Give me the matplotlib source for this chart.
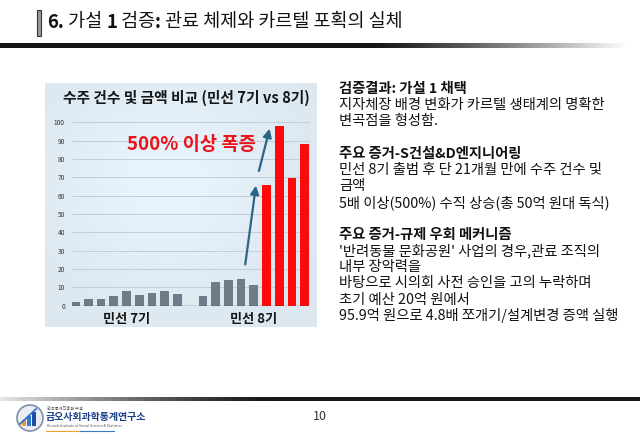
import numpy as np
import matplotlib.pyplot as plt
from matplotlib.patches import Rectangle, Circle

plt.rcParams['font.family'] = ['Noto Sans CJK KR', 'DejaVu Sans']

# Chart data
x_7 = [0, 1, 2, 3, 4, 5, 6, 7, 8]
v_7 = [2.0, 3.5, 3.8, 5.3, 7.8, 5.8, 6.8, 8.2, 6.2]
x_8_gray = [10, 11, 12, 13, 14]
v_8_gray = [5.2, 13.0, 13.8, 14.8, 11.2]
x_8_red = [15, 16, 17, 18]
v_8_red = [66.0, 98.0, 69.5, 88.0]
group_labels = ["민선 7기", "민선 8기"]
group_pos = [4, 14]
yticks = list(range(0, 101, 10))

chart_title = "수주 건수 및 금액 비교 (민선 7기 vs 8기)"
callout = "500% 이상 폭증"
# slide title pieces: (text, bold)
slide_title = [("6.", True), (" 가설 ", False), ("1", True), (" 검증", False), (":", True),
               (" 관료 체제와 카르텔 포획의 실체", False)]

right_lines = [
    ("검증결과: 가설 1 채택", True),
    ("지자체장 배경 변화가 카르텔 생태계의 명확한", False),
    ("변곡점을 형성함.", False),
    ("", False),
    ("주요 증거-S건설&D엔지니어링", True),
    ("민선 8기 출범 후 단 21개월 만에 수주 건수 및", False),
    ("금액", False),
    ("5배 이상(500%) 수직 상승(총 50억 원대 독식)", False),
    ("", False),
    ("주요 증거-규제 우회 메커니즘", True),
    ("'반려동물 문화공원' 사업의 경우,관료 조직의", False),
    ("내부 장악력을", False),
    ("바탕으로 시의회 사전 승인을 고의 누락하며", False),
    ("초기 예산 20억 원에서", False),
    ("95.9억 원으로 4.8배 쪼개기/설계변경 증액 실행", False),
]

W, H = 640, 438
fig = plt.figure(figsize=(W / 100, H / 100), dpi=100)


def px_axes(x0, y0, x1, y1, **kw):
    # axes from pixel box (top-left origin)
    return fig.add_axes([x0 / W, 1 - y1 / H, (x1 - x0) / W, (y1 - y0) / H], **kw)


def fy(y):
    return 1 - y / H


# full-slide overlay for decorations
deco = px_axes(0, 0, W, H)
deco.axis('off')

# title bar marker
deco.add_patch(Rectangle((37, 10), 4, 26, facecolor='#9a9a9a', edgecolor='#333333', lw=0.8))
renderer = fig.canvas.get_renderer()
xpos = 47
for part, bold in slide_title:
    t = fig.text(xpos / W, fy(22), part, fontsize=13.3, va='center', ha='left',
                 color='#111111', fontweight='bold' if bold else 'normal')
    xpos += t.get_window_extent(renderer).width

# gradient rules
g = np.linspace(0, 1, 256)
top_grad = np.clip((g - 0.58) / 0.42, 0, 1) ** 1.2
deco.imshow(top_grad[None, :] * 0.97 + 0.08, cmap='gray', vmin=0, vmax=1, extent=(0, W, 48.5, 44),
            aspect='auto', zorder=1)
bot_grad = np.clip(1 - g / 0.42, 0, 1) ** 1.3
deco.imshow(bot_grad[None, :] * 0.8 + 0.1, cmap='gray', vmin=0, vmax=1, extent=(0, W, 401, 397),
            aspect='auto', zorder=1)
deco.set_xlim(0, W)
deco.set_ylim(H, 0)

# footer
fig.text(320 / W, fy(416), "10", fontsize=9, ha='center', va='center', color='#333333')
deco.add_patch(Circle((30, 418), 13, facecolor='#e9eef5', edgecolor='#7f8fa8', lw=1.2))
for i, (bh, bc) in enumerate([(6, '#f0a030'), (10, '#3a78c8'), (14, '#1f4fa0')]):
    deco.add_patch(Rectangle((22 + i * 5, 426 - bh), 4, bh, facecolor=bc, lw=0))
deco.plot([20, 36], [424, 409], color='#2a6ad0', lw=1.2)
fig.text(47 / W, fy(408), "한국통계진흥원 부설", fontsize=3, color='#555555', va='center')
fig.text(46 / W, fy(417), "금오사회과학통계연구소", fontsize=7.2, color='#1d3e8c',
         fontweight='bold', va='center')
fig.text(47 / W, fy(426), "Kumoh Institute of Social Science & Statistics", fontsize=2.6,
         color='#555555', va='center')
deco.plot([46, 80], [431, 431], color='#f0a030', lw=0.8)
deco.plot([80, 114], [431, 431], color='#3a78c8', lw=0.8)

# chart panel background
bg = px_axes(45, 83, 317, 327)
yy, xx = np.mgrid[0:1:100j, 0:1:100j]
shade = 0.92 + 0.05 * np.exp(-((xx - 0.45) ** 2 + (yy - 0.4) ** 2) / 0.15)
rgb = np.dstack([shade * 0.94, shade * 0.985, shade * 1.02]).clip(0, 1)
bg.imshow(rgb, extent=(0, 1, 0, 1), aspect='auto')
bg.axis('off')
bg.text(0.52, 1 - 15 / 244, chart_title, transform=bg.transAxes, fontsize=10.6,
        fontweight='heavy', ha='center', va='center', color='#151515')

# bar chart axes
ax = px_axes(71.7, 122.3, 310, 305.7)
ax.patch.set_alpha(0)
ax.set_xlim(-0.31, 18.42)
ax.set_ylim(0, 100)
for t in yticks[1:]:
    ax.axhline(t, color='#c3ced6', lw=0.7, zorder=0)
ax.axhline(0, color='#333333', lw=0.9, zorder=3)
ax.bar(x_7, v_7, width=0.68, color='#6e7c8a', zorder=2)
ax.bar(x_8_gray, v_8_gray, width=0.68, color='#6e7c8a', zorder=2)
ax.bar(x_8_red, v_8_red, width=0.68, color='#ff0a0a', zorder=2)
ax.set_yticks(yticks)
ax.set_yticklabels([str(t) for t in yticks], fontsize=4.7, color='#333333')
ax.tick_params(axis='y', length=0, pad=5)
ax.set_xticks([])
for s in ax.spines.values():
    s.set_visible(False)
for lab, pos in zip(group_labels, group_pos):
    ax.text(pos, -7.3, lab, fontsize=9.5, fontweight='heavy', ha='center', va='center',
            color='#151515', clip_on=False)

ax.text(9.1, 88, callout, fontsize=13.5, fontweight='heavy', color='#e8141a',
        ha='center', va='center')
arrow_kw = dict(arrowstyle='-|>,head_length=0.5,head_width=0.25', color='#2a6585', lw=1.6)
ax.annotate("", xy=(14.2, 67), xytext=(13.3, 21), arrowprops=arrow_kw)
ax.annotate("", xy=(15.3, 98), xytext=(14.35, 72), arrowprops=arrow_kw)

# right text block
y = 89
for txt, bold in right_lines:
    if txt:
        fig.text(339 / W, fy(y), txt, fontsize=10.3, fontweight='bold' if bold else 'normal',
                 color='#111111', ha='left', va='center')
    y += 16.2

fig.savefig("out.png", dpi=100)
